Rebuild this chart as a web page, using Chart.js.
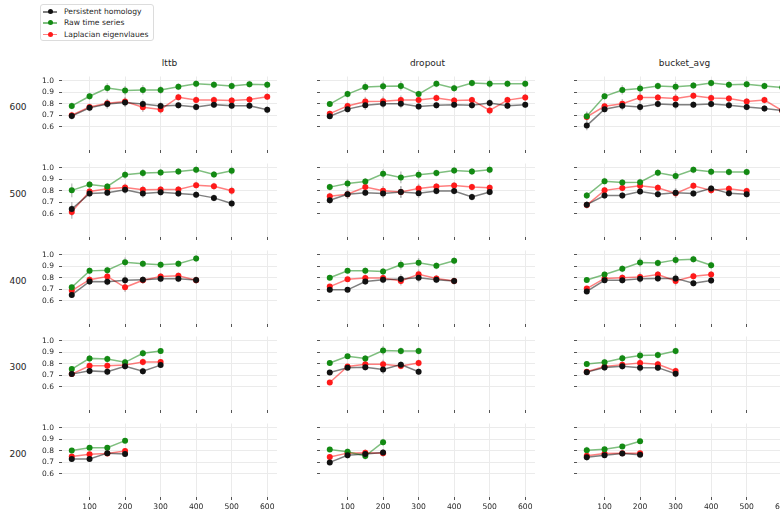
<!DOCTYPE html>
<html>
<head>
<meta charset="utf-8">
<script src="https://cdn.jsdelivr.net/npm/chart.js@4.4.3/dist/chart.umd.min.js"></script>
<style>
  html, body { margin: 0; padding: 0; background: #fff; }
  body { width: 780px; height: 512px; position: relative; overflow: hidden;
         font-family: "DejaVu Sans", sans-serif; color: #262626; }
  canvas { position: absolute; }
  .col-title { position: absolute; font-size: 9px; text-align: center; width: 215px; line-height: 10px; }
  .row-label { position: absolute; font-size: 9px; width: 30px; text-align: center; line-height: 9px; }
  .legend { position: absolute; left: 40px; top: 4px; width: 112px; height: 35px;
            border: 1px solid #dcdcdc; border-radius: 3px; background: #fff; }
  .legend-item { position: absolute; left: 0; height: 11px; font-size: 7.6px; line-height: 11px; white-space: nowrap; }
  .legend-item .ln { position: absolute; left: 2px; top: 5px; width: 14px; height: 1.5px; }
  .legend-item .dot { position: absolute; left: 6.5px; top: 3.2px; width: 5px; height: 5px; border-radius: 50%; }
  .legend-item .tx { position: absolute; left: 23px; top: 0; }
</style>
</head>
<body>
<script>
// facets
const methods = ['lttb', 'dropout', 'bucket_avg'];
const budgets = [600, 500, 400, 300, 200];
const windowSizes = [50, 100, 150, 200, 250, 300, 350, 400, 450, 500, 550, 600];
const seriesNames = ['Persistent homology', 'Raw time series', 'Laplacian eigenvlaues'];
const xTicks = [100, 200, 300, 400, 500, 600];
const yTicks = [0.6, 0.7, 0.8, 0.9, 1.0];

// budget 600
const ph_lttb_600 = [0.694, 0.764, 0.797, 0.811, 0.797, 0.781, 0.786, 0.772, 0.792, 0.783, 0.783, 0.747];
const raw_lttb_600 = [0.781, 0.864, 0.936, 0.914, 0.919, 0.919, 0.947, 0.972, 0.964, 0.953, 0.969, 0.964];
const lap_lttb_600 = [0.700, 0.772, 0.803, 0.819, 0.769, 0.750, 0.856, 0.833, 0.833, 0.828, 0.836, 0.861];
const err_lttb_600 = [0.03, 0.03, 0.04, 0.04, 0.04, 0.035, 0.03, 0.03, 0.03, 0.03, 0.03, 0.03];

const ph_dropout_600 = [0.692, 0.753, 0.786, 0.800, 0.800, 0.775, 0.786, 0.792, 0.786, 0.806, 0.783, 0.792];
const raw_dropout_600 = [0.797, 0.883, 0.944, 0.950, 0.953, 0.883, 0.972, 0.933, 0.978, 0.972, 0.972, 0.972];
const lap_dropout_600 = [0.714, 0.781, 0.819, 0.822, 0.831, 0.831, 0.850, 0.828, 0.831, 0.742, 0.831, 0.853];
const err_dropout_600 = [0.025, 0.03, 0.04, 0.04, 0.04, 0.03, 0.03, 0.03, 0.03, 0.035, 0.03, 0.03];

const ph_bucket_600 = [0.611, 0.753, 0.783, 0.772, 0.797, 0.792, 0.792, 0.797, 0.786, 0.772, 0.758, 0.742];
const raw_bucket_600 = [0.692, 0.864, 0.919, 0.931, 0.953, 0.947, 0.958, 0.978, 0.964, 0.969, 0.953, 0.940];
const lap_bucket_600 = [0.686, 0.778, 0.800, 0.853, 0.853, 0.844, 0.869, 0.850, 0.844, 0.819, 0.831, 0.740];
const err_bucket_600 = [0.04, 0.03, 0.04, 0.04, 0.03, 0.04, 0.03, 0.03, 0.03, 0.03, 0.03, 0.03];

// budget 500
const ph_lttb_500 = [0.642, 0.775, 0.783, 0.808, 0.775, 0.786, 0.775, 0.766, 0.738, 0.690];
const raw_lttb_500 = [0.803, 0.854, 0.837, 0.938, 0.952, 0.958, 0.966, 0.980, 0.941, 0.972];
const lap_lttb_500 = [0.617, 0.794, 0.817, 0.828, 0.808, 0.811, 0.811, 0.848, 0.839, 0.800];
const err_lttb_500 = [0.06, 0.03, 0.03, 0.035, 0.035, 0.03, 0.03, 0.03, 0.03, 0.035];

const ph_dropout_500 = [0.718, 0.769, 0.783, 0.775, 0.789, 0.777, 0.797, 0.797, 0.746, 0.789];
const raw_dropout_500 = [0.831, 0.862, 0.879, 0.946, 0.915, 0.938, 0.952, 0.975, 0.966, 0.980];
const lap_dropout_500 = [0.752, 0.769, 0.831, 0.800, 0.789, 0.820, 0.837, 0.845, 0.831, 0.825];
const err_dropout_500 = [0.03, 0.04, 0.03, 0.04, 0.05, 0.04, 0.03, 0.03, 0.03, 0.03];

const ph_bucket_500 = [0.679, 0.758, 0.758, 0.794, 0.769, 0.783, 0.775, 0.820, 0.777, 0.769];
const raw_bucket_500 = [0.758, 0.882, 0.870, 0.873, 0.955, 0.927, 0.980, 0.963, 0.961, 0.961];
const lap_bucket_500 = [0.676, 0.803, 0.823, 0.842, 0.825, 0.777, 0.842, 0.803, 0.817, 0.797];
const err_bucket_500 = [0.03, 0.03, 0.03, 0.03, 0.03, 0.04, 0.03, 0.03, 0.03, 0.03];

// budget 400
const ph_lttb_400 = [0.651, 0.767, 0.764, 0.778, 0.783, 0.791, 0.791, 0.780];
const raw_lttb_400 = [0.717, 0.859, 0.865, 0.934, 0.920, 0.912, 0.920, 0.965];
const lap_lttb_400 = [0.689, 0.783, 0.811, 0.717, 0.778, 0.811, 0.816, 0.778];
const err_lttb_400 = [0.02, 0.03, 0.03, 0.04, 0.03, 0.03, 0.03, 0.03];

const ph_dropout_400 = [0.695, 0.695, 0.767, 0.783, 0.789, 0.800, 0.783, 0.772];
const raw_dropout_400 = [0.800, 0.859, 0.859, 0.853, 0.911, 0.930, 0.903, 0.947];
const lap_dropout_400 = [0.723, 0.786, 0.797, 0.797, 0.772, 0.830, 0.794, 0.772];
const err_dropout_400 = [0.02, 0.02, 0.03, 0.03, 0.04, 0.04, 0.03, 0.03];

const ph_bucket_400 = [0.681, 0.778, 0.778, 0.791, 0.794, 0.794, 0.753, 0.775];
const raw_bucket_400 = [0.780, 0.827, 0.877, 0.932, 0.927, 0.954, 0.960, 0.907];
const lap_bucket_400 = [0.706, 0.794, 0.800, 0.805, 0.827, 0.772, 0.813, 0.827];
const err_bucket_400 = [0.02, 0.025, 0.03, 0.04, 0.03, 0.04, 0.03, 0.03];

// budget 300
const ph_lttb_300 = [0.710, 0.738, 0.730, 0.777, 0.735, 0.788];
const raw_lttb_300 = [0.754, 0.846, 0.840, 0.812, 0.890, 0.909];
const lap_lttb_300 = [0.710, 0.782, 0.782, 0.788, 0.815, 0.815];
const err_lttb_300 = [0.02, 0.03, 0.03, 0.03, 0.03, 0.02];

const ph_dropout_300 = [0.724, 0.764, 0.770, 0.750, 0.792, 0.730];
const raw_dropout_300 = [0.806, 0.864, 0.845, 0.914, 0.909, 0.909];
const lap_dropout_300 = [0.637, 0.776, 0.795, 0.795, 0.781, 0.806];
const err_dropout_300 = [0.02, 0.02, 0.03, 0.04, 0.03, 0.03];

const ph_bucket_300 = [0.727, 0.768, 0.777, 0.766, 0.766, 0.713];
const raw_bucket_300 = [0.798, 0.812, 0.848, 0.870, 0.876, 0.909];
const lap_bucket_300 = [0.730, 0.776, 0.792, 0.806, 0.795, 0.737];
const err_bucket_300 = [0.02, 0.03, 0.03, 0.04, 0.03, 0.03];

// budget 200
const ph_lttb_200 = [0.729, 0.729, 0.779, 0.771];
const raw_lttb_200 = [0.801, 0.826, 0.826, 0.887];
const lap_lttb_200 = [0.749, 0.770, 0.775, 0.798];
const err_lttb_200 = [0.02, 0.02, 0.02, 0.02];

const ph_dropout_200 = [0.699, 0.760, 0.771, 0.785];
const raw_dropout_200 = [0.810, 0.790, 0.754, 0.874];
const lap_dropout_200 = [0.746, 0.779, 0.782, 0.779];
const err_dropout_200 = [0.02, 0.03, 0.03, 0.03];

const ph_bucket_200 = [0.743, 0.760, 0.776, 0.765];
const raw_bucket_200 = [0.804, 0.812, 0.837, 0.881];
const lap_bucket_200 = [0.757, 0.776, 0.779, 0.779];
const err_bucket_200 = [0.03, 0.02, 0.02, 0.02];

const panels = {
    lttb: {
        600: [ph_lttb_600, raw_lttb_600, lap_lttb_600, err_lttb_600],
        500: [ph_lttb_500, raw_lttb_500, lap_lttb_500, err_lttb_500],
        400: [ph_lttb_400, raw_lttb_400, lap_lttb_400, err_lttb_400],
        300: [ph_lttb_300, raw_lttb_300, lap_lttb_300, err_lttb_300],
        200: [ph_lttb_200, raw_lttb_200, lap_lttb_200, err_lttb_200],
    },
    dropout: {
        600: [ph_dropout_600, raw_dropout_600, lap_dropout_600, err_dropout_600],
        500: [ph_dropout_500, raw_dropout_500, lap_dropout_500, err_dropout_500],
        400: [ph_dropout_400, raw_dropout_400, lap_dropout_400, err_dropout_400],
        300: [ph_dropout_300, raw_dropout_300, lap_dropout_300, err_dropout_300],
        200: [ph_dropout_200, raw_dropout_200, lap_dropout_200, err_dropout_200],
    },
    bucket_avg: {
        600: [ph_bucket_600, raw_bucket_600, lap_bucket_600, err_bucket_600],
        500: [ph_bucket_500, raw_bucket_500, lap_bucket_500, err_bucket_500],
        400: [ph_bucket_400, raw_bucket_400, lap_bucket_400, err_bucket_400],
        300: [ph_bucket_300, raw_bucket_300, lap_bucket_300, err_bucket_300],
        200: [ph_bucket_200, raw_bucket_200, lap_bucket_200, err_bucket_200],
    },
};

// styling / layout
const markerColors = ['#111111', '#138a13', '#ff1a1a'];
const lineColors = ['rgba(0,0,0,0.5)', 'rgba(0,128,0,0.5)', 'rgba(255,0,0,0.5)'];
const colLeft = [62, 320, 577];
const rowTop = [73, 160, 247, 333, 420];
const AX_W = 215, AX_H = 77;
const Y_AX_W = 30, X_AX_H = 18, PAD_T = 6, PAD_R = 6;
const FONT = 'DejaVu Sans';
const TEXT = '#262626';

// legend
const legend = document.createElement('div');
legend.className = 'legend';
seriesNames.forEach((name, i) => {
    const item = document.createElement('div');
    item.className = 'legend-item';
    item.style.top = (1 + i * 11.3) + 'px';
    item.innerHTML = '<span class="ln" style="background:' + lineColors[i] + '"></span>' +
        '<span class="dot" style="background:' + markerColors[i] + '"></span>' +
        '<span class="tx">' + name + '</span>';
    legend.appendChild(item);
});
document.body.appendChild(legend);

// vertical error bars, drawn under the lines and markers
const errorBars = {
    id: 'errorBars',
    beforeDatasetsDraw(chart) {
        const ctx = chart.ctx;
        const xs = chart.scales.x, ys = chart.scales.y;
        ctx.save();
        ctx.strokeStyle = 'rgba(150,150,150,0.55)';
        ctx.lineWidth = 1.5;
        chart.data.datasets.forEach((ds) => {
            ds.data.forEach((p, i) => {
                const e = ds.errors[i];
                const px = xs.getPixelForValue(p.x);
                ctx.beginPath();
                ctx.moveTo(px, ys.getPixelForValue(p.y - e));
                ctx.lineTo(px, ys.getPixelForValue(p.y + e));
                ctx.stroke();
            });
        });
        ctx.restore();
    },
};

methods.forEach((method, c) => {
    const title = document.createElement('div');
    title.className = 'col-title';
    title.textContent = method;
    title.style.left = colLeft[c] + 'px';
    title.style.top = '58px';
    document.body.appendChild(title);

    budgets.forEach((budget, r) => {
        if (c === 0) {
            const lab = document.createElement('div');
            lab.className = 'row-label';
            lab.textContent = String(budget);
            lab.style.left = '3px';
            lab.style.top = (rowTop[r] + AX_H / 2 - 9) + 'px';
            document.body.appendChild(lab);
        }

        const [ph, raw, lap, err] = panels[method][budget];
        const xs = windowSizes.filter((w) => w <= budget);
        const canvas = document.createElement('canvas');
        canvas.width = Y_AX_W + AX_W + PAD_R;
        canvas.height = PAD_T + AX_H + X_AX_H;
        canvas.style.left = (colLeft[c] - Y_AX_W) + 'px';
        canvas.style.top = (rowTop[r] - PAD_T) + 'px';
        document.body.appendChild(canvas);

        const showX = r === budgets.length - 1;
        const showY = c === 0;

        new Chart(canvas.getContext('2d'), {
            type: 'line',
            data: {
                datasets: [ph, raw, lap].map((vals, i) => ({
                    label: seriesNames[i],
                    data: vals.map((v, k) => ({ x: xs[k], y: v })),
                    errors: err,
                    borderColor: lineColors[i],
                    borderWidth: 1.5,
                    backgroundColor: markerColors[i],
                    pointBackgroundColor: markerColors[i],
                    pointBorderColor: markerColors[i],
                    pointBorderWidth: 0,
                    pointRadius: 3,
                    tension: 0,
                    fill: false,
                    clip: 6,
                })),
            },
            plugins: [errorBars],
            options: {
                responsive: false,
                animation: false,
                devicePixelRatio: 1,
                events: [],
                layout: { padding: { top: PAD_T, right: PAD_R, left: 0, bottom: 0 } },
                plugins: { legend: { display: false }, tooltip: { enabled: false } },
                scales: {
                    x: {
                        type: 'linear',
                        min: 22.5,
                        max: 627.5,
                        afterBuildTicks: (s) => { s.ticks = xTicks.map((v) => ({ value: v })); },
                        afterFit: (s) => { s.height = X_AX_H; },
                        border: { display: false },
                        grid: { color: '#ebebeb', lineWidth: 1, tickColor: '#555', tickLength: 3 },
                        ticks: {
                            autoSkip: false,
                            maxRotation: 0,
                            padding: 2,
                            color: showX ? TEXT : 'rgba(0,0,0,0)',
                            font: { family: FONT, size: 7.6 },
                            callback: (v) => String(v),
                        },
                    },
                    y: {
                        min: 0.4,
                        max: 1.035,
                        afterBuildTicks: (s) => { s.ticks = yTicks.map((v) => ({ value: v })); },
                        afterFit: (s) => { s.width = Y_AX_W; },
                        border: { display: false },
                        grid: { color: '#ebebeb', lineWidth: 1, tickColor: '#555', tickLength: 3 },
                        ticks: {
                            autoSkip: false,
                            padding: 5,
                            color: showY ? TEXT : 'rgba(0,0,0,0)',
                            font: { family: FONT, size: 7.5 },
                            callback: (v) => Number(v).toFixed(1),
                        },
                    },
                },
            },
        });
    });
});
</script>
</body>
</html>
